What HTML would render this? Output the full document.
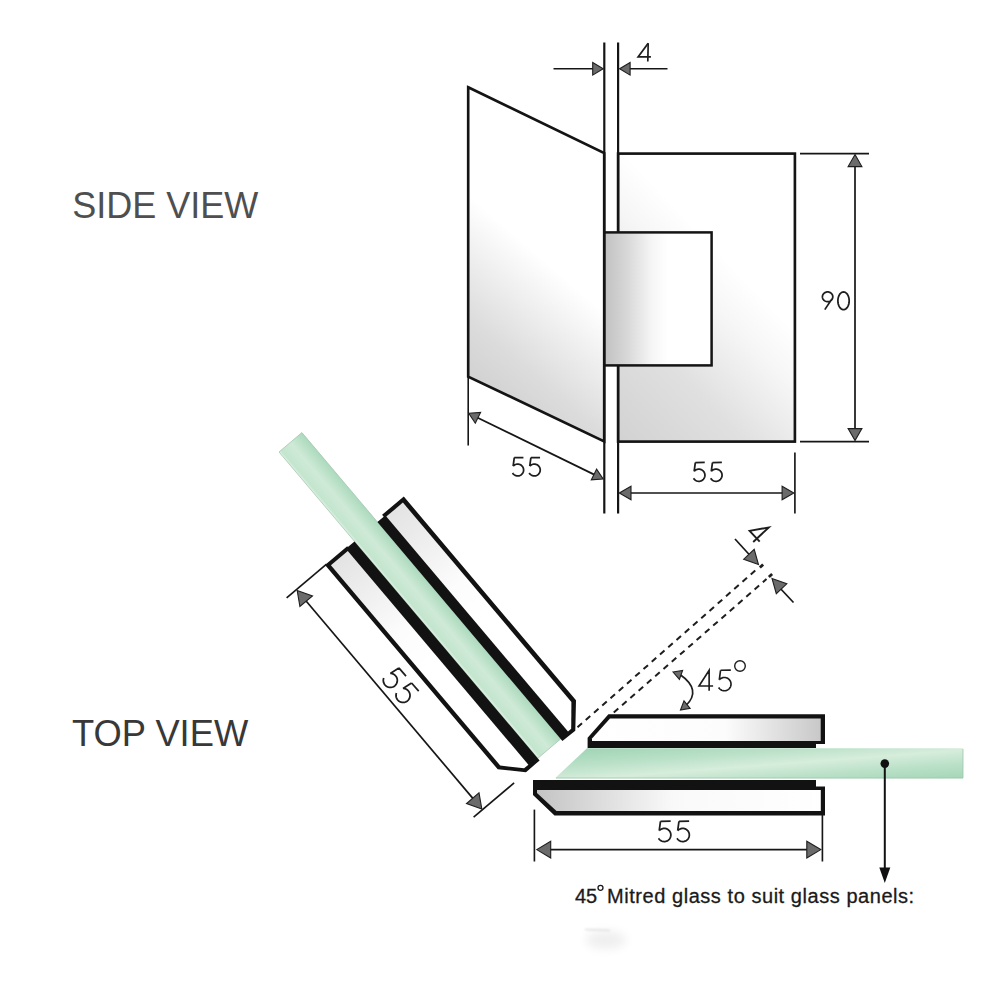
<!DOCTYPE html>
<html><head><meta charset="utf-8"><style>
html,body{margin:0;padding:0;background:#fff;width:1000px;height:1000px;overflow:hidden}
svg{position:absolute;left:0;top:0}
</style></head><body>
<svg width="1000" height="1000" viewBox="0 0 1000 1000">
<text x="72.3" y="217.5" font-family="Liberation Sans" font-size="36" fill="#4f4f4f">SIDE VIEW</text>
<text x="72" y="745.5" font-family="Liberation Sans" font-size="36.3" fill="#383838">TOP VIEW</text>
<defs>
<linearGradient id="gLP" x1="468" y1="441" x2="590" y2="300" gradientUnits="userSpaceOnUse"><stop offset="0" stop-color="#c6c6c6"/><stop offset="0.5" stop-color="#dcdcdc"/><stop offset="0.8" stop-color="#f1f1f1"/><stop offset="1" stop-color="#ffffff"/></linearGradient>
<linearGradient id="gRP" x1="618" y1="441" x2="765" y2="300" gradientUnits="userSpaceOnUse"><stop offset="0" stop-color="#d2d2d2"/><stop offset="0.45" stop-color="#e0e0e0"/><stop offset="0.8" stop-color="#f6f6f6"/><stop offset="1" stop-color="#ffffff"/></linearGradient>
<linearGradient id="gBlk" x1="604" y1="0" x2="711" y2="0" gradientUnits="userSpaceOnUse"><stop offset="0" stop-color="#c0c0c0"/><stop offset="0.22" stop-color="#d8d8d8"/><stop offset="0.45" stop-color="#f6f6f6"/><stop offset="0.6" stop-color="#ffffff"/></linearGradient>
<linearGradient id="gUB" x1="588" y1="0" x2="825" y2="0" gradientUnits="userSpaceOnUse"><stop offset="0" stop-color="#ffffff"/><stop offset="0.58" stop-color="#fcfcfc"/><stop offset="1" stop-color="#c6c6c6"/></linearGradient>
<linearGradient id="gLB" x1="533" y1="0" x2="825" y2="0" gradientUnits="userSpaceOnUse"><stop offset="0" stop-color="#c2c2c2"/><stop offset="0.48" stop-color="#f9f9f9"/><stop offset="1" stop-color="#ffffff"/></linearGradient>
<linearGradient id="gGR" x1="797.7" y1="732.5" x2="802.3" y2="792.5" gradientUnits="userSpaceOnUse"><stop offset="0" stop-color="#a0d5b4"/><stop offset="0.28" stop-color="#bbe1c9"/><stop offset="0.5" stop-color="#d6eddb"/><stop offset="0.72" stop-color="#bbe1c9"/><stop offset="1" stop-color="#a0d5b4"/></linearGradient>
<linearGradient id="gGL" x1="408.1" y1="604.8" x2="431.0" y2="585.4" gradientUnits="userSpaceOnUse"><stop offset="0" stop-color="#e2f2e5"/><stop offset="0.1" stop-color="#c3e5ce"/><stop offset="0.5" stop-color="#cfead7"/><stop offset="1" stop-color="#acdabd"/></linearGradient>
<linearGradient id="gLArm" x1="352.6" y1="539.1" x2="446.8" y2="650.6" gradientUnits="userSpaceOnUse"><stop offset="0" stop-color="#e2e2e2"/><stop offset="0.7" stop-color="#fcfcfc"/><stop offset="1" stop-color="#ffffff"/></linearGradient>
</defs>
<polygon points="468.2,87.3 604.2,153 604.2,441.4 468.2,376.6" fill="url(#gLP)" stroke="#141414" stroke-width="2.65" stroke-linejoin="miter"/>
<rect x="618.1" y="153.6" width="176.8" height="288" fill="url(#gRP)" stroke="#141414" stroke-width="2.65"/>
<rect x="604.3" y="232.4" width="107.3" height="133" fill="url(#gBlk)" stroke="#141414" stroke-width="2.5"/>
<line x1="604.30" y1="42.50" x2="604.30" y2="513.50" stroke="#141414" stroke-width="2.2" />
<line x1="618.10" y1="42.50" x2="618.10" y2="232.40" stroke="#141414" stroke-width="2.2" />
<line x1="618.10" y1="365.40" x2="618.10" y2="513.50" stroke="#141414" stroke-width="2.2" />
<line x1="553.50" y1="68.80" x2="594.00" y2="68.80" stroke="#161616" stroke-width="1.6" />
<polygon points="603.2,68.8 592.7,75.1 592.7,62.5" fill="#6b6b6b" stroke="#1e1e1e" stroke-width="1.1" stroke-linejoin="miter"/>
<line x1="629.00" y1="68.80" x2="667.50" y2="68.80" stroke="#161616" stroke-width="1.6" />
<polygon points="619.6,68.8 630.1,62.5 630.1,75.1" fill="#6b6b6b" stroke="#1e1e1e" stroke-width="1.1" stroke-linejoin="miter"/>
<path d="M648.2,43.2 L647.8,61.6" fill="none" stroke="#1e1e1e" stroke-width="1.7"/>
<path d="M648.2,43.2 L638.2,56.8 L650.9,56.8" fill="none" stroke="#1e1e1e" stroke-width="1.8" stroke-linejoin="miter"/>
<line x1="800.00" y1="153.60" x2="869.00" y2="153.60" stroke="#161616" stroke-width="1.65" />
<line x1="800.00" y1="441.60" x2="869.00" y2="441.60" stroke="#161616" stroke-width="1.65" />
<line x1="855.00" y1="164.20" x2="855.00" y2="431.00" stroke="#161616" stroke-width="1.7" />
<polygon points="855.0,154.6 861.9,166.6 848.1,166.6" fill="#6b6b6b" stroke="#1e1e1e" stroke-width="1.1" stroke-linejoin="miter"/>
<polygon points="855.0,440.6 848.1,428.6 861.9,428.6" fill="#6b6b6b" stroke="#1e1e1e" stroke-width="1.1" stroke-linejoin="miter"/>
<line x1="468.20" y1="376.00" x2="468.20" y2="445.50" stroke="#161616" stroke-width="1.6" />
<line x1="476.10" y1="416.92" x2="595.80" y2="475.38" stroke="#161616" stroke-width="1.7" />
<polygon points="468.7,413.3 480.6,412.4 475.3,423.2" fill="#6b6b6b" stroke="#1e1e1e" stroke-width="1.1" stroke-linejoin="miter"/>
<polygon points="603.2,479.0 591.3,479.9 596.6,469.1" fill="#6b6b6b" stroke="#1e1e1e" stroke-width="1.1" stroke-linejoin="miter"/>
<line x1="794.90" y1="452.50" x2="794.90" y2="513.50" stroke="#161616" stroke-width="1.65" />
<line x1="628.66" y1="493.00" x2="784.44" y2="493.00" stroke="#161616" stroke-width="1.7" />
<polygon points="619.3,493.0 631.0,486.2 631.0,499.8" fill="#6b6b6b" stroke="#1e1e1e" stroke-width="1.1" stroke-linejoin="miter"/>
<polygon points="793.8,493.0 782.1,499.8 782.1,486.2" fill="#6b6b6b" stroke="#1e1e1e" stroke-width="1.1" stroke-linejoin="miter"/>
<path d="M514.28,457.70 L523.43,457.51 M514.28,457.70 L513.15,466.21 M513.15,466.21 L513.66,465.67 L514.25,465.20 L514.88,464.80 L515.56,464.49 L516.28,464.26 L517.02,464.13 L517.76,464.09 L518.51,464.15 L519.25,464.30 L519.95,464.54 L520.63,464.87 L521.25,465.29 L521.82,465.77 L522.32,466.33 L522.75,466.95 L523.10,467.61 L523.36,468.31 L523.53,469.04 L523.61,469.79 L523.59,470.54 L523.48,471.28 L523.27,472.00 L522.98,472.69 L522.60,473.33 L522.14,473.93 L521.61,474.46 L521.02,474.92 L520.38,475.30 L519.69,475.60 L518.97,475.81 L518.23,475.92 L517.48,475.94 L516.73,475.87 L516.00,475.70 L515.30,475.44 L514.63,475.10 L514.02,474.67 L513.46,474.17 L512.97,473.61 L512.55,472.98 M530.89,457.70 L540.04,457.51 M530.89,457.70 L529.76,466.21 M529.76,466.21 L530.28,465.67 L530.86,465.20 L531.49,464.80 L532.18,464.49 L532.89,464.26 L533.63,464.13 L534.38,464.09 L535.12,464.15 L535.86,464.30 L536.57,464.54 L537.24,464.87 L537.87,465.29 L538.44,465.77 L538.94,466.33 L539.37,466.95 L539.71,467.61 L539.98,468.31 L540.15,469.04 L540.22,469.79 L540.20,470.54 L540.09,471.28 L539.89,472.00 L539.59,472.69 L539.21,473.33 L538.76,473.93 L538.23,474.46 L537.64,474.92 L536.99,475.30 L536.30,475.60 L535.58,475.81 L534.84,475.92 L534.09,475.94 L533.35,475.87 L532.62,475.70 L531.91,475.44 L531.25,475.10 L530.63,474.67 L530.07,474.17 L529.58,473.61 L529.17,472.98" fill="none" stroke="#1e1e1e" stroke-width="1.75" stroke-linecap="butt" stroke-linejoin="miter"/>
<path d="M695.32,462.52 L704.75,462.33 M695.32,462.52 L694.16,471.29 M694.16,471.29 L694.69,470.73 L695.29,470.25 L695.94,469.84 L696.65,469.52 L697.38,469.29 L698.14,469.15 L698.92,469.11 L699.69,469.17 L700.44,469.33 L701.17,469.58 L701.87,469.92 L702.51,470.34 L703.10,470.84 L703.62,471.42 L704.06,472.05 L704.42,472.73 L704.68,473.46 L704.86,474.21 L704.94,474.98 L704.92,475.75 L704.80,476.51 L704.59,477.26 L704.29,477.97 L703.90,478.63 L703.43,479.25 L702.88,479.79 L702.27,480.27 L701.61,480.66 L700.90,480.97 L700.16,481.18 L699.39,481.30 L698.62,481.32 L697.85,481.25 L697.10,481.08 L696.38,480.81 L695.69,480.45 L695.05,480.02 L694.48,479.50 L693.97,478.92 L693.55,478.27 M712.45,462.52 L721.87,462.33 M712.45,462.52 L711.28,471.29 M711.28,471.29 L711.81,470.73 L712.41,470.25 L713.07,469.84 L713.77,469.52 L714.51,469.29 L715.27,469.15 L716.04,469.11 L716.81,469.17 L717.56,469.33 L718.29,469.58 L718.99,469.92 L719.63,470.34 L720.22,470.84 L720.74,471.42 L721.18,472.05 L721.54,472.73 L721.81,473.46 L721.98,474.21 L722.06,474.98 L722.04,475.75 L721.93,476.51 L721.71,477.26 L721.41,477.97 L721.02,478.63 L720.55,479.25 L720.00,479.79 L719.39,480.27 L718.73,480.66 L718.02,480.97 L717.28,481.18 L716.52,481.30 L715.74,481.32 L714.98,481.25 L714.22,481.08 L713.50,480.81 L712.81,480.45 L712.18,480.02 L711.60,479.50 L711.10,478.92 L710.67,478.27" fill="none" stroke="#1e1e1e" stroke-width="1.75" stroke-linecap="butt" stroke-linejoin="miter"/>
<path d="M832.80,296.80 L832.75,297.43 L832.62,298.06 L832.40,298.66 L832.10,299.23 L831.73,299.76 L831.28,300.24 L830.77,300.66 L830.21,301.01 L829.60,301.29 L828.96,301.50 L828.29,301.62 L827.61,301.66 L826.94,301.62 L826.27,301.50 L825.63,301.29 L825.02,301.01 L824.46,300.66 L823.95,300.24 L823.50,299.76 L823.12,299.23 L822.82,298.66 L822.61,298.06 L822.47,297.43 L822.43,296.80 L822.47,296.16 L822.61,295.54 L822.82,294.94 L823.12,294.37 L823.50,293.84 L823.95,293.36 L824.46,292.94 L825.02,292.58 L825.63,292.30 L826.27,292.10 L826.94,291.97 L827.61,291.93 L828.29,291.97 L828.96,292.10 L829.60,292.30 L830.21,292.58 L830.77,292.94 L831.28,293.36 L831.73,293.84 L832.10,294.37 L832.40,294.94 L832.62,295.54 L832.75,296.16 L832.80,296.80 M831.89,299.07 L824.79,309.62 M849.17,300.80 L849.13,301.79 L849.03,302.76 L848.85,303.71 L848.61,304.63 L848.31,305.49 L847.94,306.30 L847.52,307.04 L847.05,307.70 L846.53,308.27 L845.98,308.75 L845.39,309.13 L844.79,309.40 L844.16,309.57 L843.53,309.62 L842.90,309.57 L842.28,309.40 L841.67,309.13 L841.08,308.75 L840.53,308.27 L840.02,307.70 L839.54,307.04 L839.12,306.30 L838.76,305.49 L838.45,304.63 L838.21,303.71 L838.03,302.76 L837.93,301.79 L837.89,300.80 L837.93,299.81 L838.03,298.84 L838.21,297.89 L838.45,296.97 L838.76,296.11 L839.12,295.30 L839.54,294.56 L840.02,293.90 L840.53,293.33 L841.08,292.85 L841.67,292.47 L842.28,292.20 L842.90,292.03 L843.53,291.98 L844.16,292.03 L844.79,292.20 L845.39,292.47 L845.98,292.85 L846.53,293.33 L847.05,293.90 L847.52,294.56 L847.94,295.30 L848.31,296.11 L848.61,296.97 L848.85,297.89 L849.03,298.84 L849.13,299.81 L849.17,300.80" fill="none" stroke="#1e1e1e" stroke-width="1.75" stroke-linecap="butt" stroke-linejoin="miter"/>
<polygon points="279.0,452.0 301.9,432.6 560.7,738.9 537.8,758.3" fill="url(#gGL)" stroke="#a3c6ad" stroke-width="0.8"/>
<polygon points="377.4,522.0 383.7,516.7 382.1,514.8 403.8,496.5 576.0,700.2 575.3,730.8 562.4,740.9" fill="#121212"/>
<polygon points="386.3,516.6 402.9,502.6 571.4,701.9 571.2,728.7 568.0,731.5" fill="url(#gLArm)"/>
<polygon points="354.5,541.4 347.9,547.0 347.2,546.2 325.0,565.0 497.7,769.3 526.0,772.2 539.6,760.4" fill="#121212"/>
<polygon points="347.8,550.9 330.9,565.2 500.2,765.5 524.1,768.3 528.4,764.7" fill="url(#gLArm)"/>
<polygon points="587,748.2 963,748.2 963,778.3 555,778.3" fill="url(#gGR)"/>
<polyline points="963,749 963,778 556,778" fill="none" stroke="#9fc5ab" stroke-width="0.8"/>
<polygon points="608.4,714.3 825,714.3 825,744 816,744 816,748 587.6,748 587.6,737.7" fill="#121212"/>
<polygon points="610,718.5 820.7,718.5 820.7,741 592,741 592,738.5" fill="url(#gUB)"/>
<polygon points="533,780 816,780 816,786.4 825,786.4 825,815.6 554.5,815.6 533,795" fill="#121212"/>
<polygon points="537,790 820.8,790 820.8,811 556.5,811 537,793" fill="url(#gLB)"/>
<line x1="577.50" y1="727.30" x2="757.00" y2="569.00" stroke="#1e1e1e" stroke-width="2.0" stroke-dasharray="6,5"/>
<line x1="613.80" y1="712.50" x2="766.50" y2="579.00" stroke="#1e1e1e" stroke-width="2.0" stroke-dasharray="6,5"/>
<rect x="-2.2" y="-1.4" width="4.4" height="2.8" transform="translate(761.5,566) rotate(-42)" fill="#1e1e1e"/>
<rect x="-2.2" y="-1.4" width="4.4" height="2.8" transform="translate(770.5,575.5) rotate(-42)" fill="#1e1e1e"/>
<line x1="735.00" y1="539.00" x2="751.00" y2="556.50" stroke="#161616" stroke-width="1.7" />
<polygon points="758.5,564.5 743.7,559.2 754.2,549.3" fill="#6b6b6b" stroke="#1e1e1e" stroke-width="1.1" stroke-linejoin="miter"/>
<line x1="793.50" y1="602.50" x2="779.00" y2="587.00" stroke="#161616" stroke-width="1.7" />
<polygon points="772.0,578.5 786.8,583.8 776.3,593.7" fill="#6b6b6b" stroke="#1e1e1e" stroke-width="1.1" stroke-linejoin="miter"/>
<path d="M753.21,542.05 L768.78,527.43 L749.61,530.93 L759.69,541.67" fill="none" stroke="#1e1e1e" stroke-width="1.9" stroke-linecap="butt" stroke-linejoin="miter"/>
<path d="M680,674.5 Q702,690 686,705.5" fill="none" stroke="#1e1e1e" stroke-width="1.7"/>
<polygon points="673.0,672.0 682.6,670.4 679.4,679.4" fill="#6b6b6b" stroke="#1e1e1e" stroke-width="1.1" stroke-linejoin="miter"/>
<polygon points="680.5,710.0 684.0,700.9 690.1,708.3" fill="#6b6b6b" stroke="#1e1e1e" stroke-width="1.1" stroke-linejoin="miter"/>
<path d="M709.13,690.71 L709.13,670.29 L699.02,685.95 L713.11,685.95 M720.55,670.29 L730.82,670.08 M720.55,670.29 L719.28,679.84 M719.28,679.84 L719.86,679.23 L720.51,678.70 L721.23,678.25 L721.99,677.90 L722.80,677.65 L723.62,677.50 L724.46,677.46 L725.30,677.53 L726.13,677.70 L726.92,677.97 L727.68,678.34 L728.38,678.80 L729.02,679.35 L729.58,679.97 L730.06,680.66 L730.45,681.41 L730.75,682.20 L730.94,683.02 L731.02,683.85 L731.00,684.69 L730.88,685.53 L730.65,686.33 L730.32,687.11 L729.89,687.83 L729.38,688.50 L728.78,689.10 L728.12,689.61 L727.40,690.04 L726.62,690.38 L725.82,690.61 L724.98,690.74 L724.14,690.76 L723.31,690.68 L722.49,690.49 L721.70,690.20 L720.95,689.82 L720.26,689.34 L719.63,688.78 L719.08,688.14 L718.62,687.44" fill="none" stroke="#1e1e1e" stroke-width="1.65" stroke-linecap="butt" stroke-linejoin="miter"/>
<circle cx="740" cy="666" r="5.3" fill="none" stroke="#1e1e1e" stroke-width="1.4"/>
<line x1="326.57" y1="564.07" x2="286.62" y2="597.82" stroke="#161616" stroke-width="1.65" />
<line x1="514.12" y1="782.90" x2="473.64" y2="817.11" stroke="#161616" stroke-width="1.65" />
<line x1="304.40" y1="599.03" x2="474.55" y2="800.37" stroke="#161616" stroke-width="1.7" />
<polygon points="297.2,590.5 312.5,595.9 299.9,606.5" fill="#6b6b6b" stroke="#1e1e1e" stroke-width="1.1" stroke-linejoin="miter"/>
<polygon points="481.8,808.9 466.5,803.5 479.0,792.9" fill="#6b6b6b" stroke="#1e1e1e" stroke-width="1.1" stroke-linejoin="miter"/>
<path d="M398.85,667.94 L406.01,676.07 M398.85,667.94 L390.29,673.42 M390.29,673.42 L391.17,673.47 L392.05,673.64 L392.89,673.91 L393.69,674.29 L394.44,674.76 L395.12,675.33 L395.73,675.98 L396.25,676.70 L396.67,677.48 L397.00,678.30 L397.21,679.16 L397.32,680.04 L397.31,680.93 L397.19,681.81 L396.96,682.67 L396.63,683.49 L396.19,684.26 L395.66,684.97 L395.05,685.61 L394.36,686.17 L393.60,686.63 L392.79,687.00 L391.95,687.26 L391.07,687.41 L390.19,687.45 L389.30,687.38 L388.43,687.19 L387.60,686.90 L386.80,686.51 L386.06,686.01 L385.39,685.43 L384.80,684.77 L384.30,684.04 L383.89,683.25 L383.59,682.42 L383.39,681.56 L383.30,680.67 L383.33,679.79 L383.47,678.91 L383.71,678.06 M411.54,682.96 L418.70,691.09 M411.54,682.96 L402.98,688.44 M402.98,688.44 L403.87,688.49 L404.74,688.66 L405.58,688.93 L406.39,689.31 L407.13,689.78 L407.82,690.35 L408.42,691.00 L408.94,691.72 L409.37,692.50 L409.69,693.32 L409.91,694.18 L410.01,695.06 L410.00,695.95 L409.89,696.83 L409.66,697.69 L409.32,698.51 L408.89,699.28 L408.36,699.99 L407.74,700.63 L407.05,701.19 L406.29,701.65 L405.49,702.02 L404.64,702.28 L403.76,702.43 L402.88,702.47 L401.99,702.40 L401.13,702.21 L400.29,701.92 L399.49,701.53 L398.76,701.03 L398.09,700.45 L397.49,699.79 L396.99,699.06 L396.58,698.27 L396.28,697.44 L396.08,696.58 L396.00,695.69 L396.02,694.81 L396.16,693.93 L396.41,693.08" fill="none" stroke="#1e1e1e" stroke-width="1.75" stroke-linecap="butt" stroke-linejoin="miter"/>
<line x1="534.40" y1="809.60" x2="534.40" y2="861.50" stroke="#161616" stroke-width="1.65" />
<line x1="822.40" y1="815.00" x2="822.40" y2="861.50" stroke="#161616" stroke-width="1.65" />
<line x1="547.90" y1="849.60" x2="809.60" y2="849.60" stroke="#161616" stroke-width="1.7" />
<polygon points="536.7,849.6 550.7,841.2 550.7,858.0" fill="#6b6b6b" stroke="#1e1e1e" stroke-width="1.1" stroke-linejoin="miter"/>
<polygon points="820.8,849.6 806.8,858.0 806.8,841.2" fill="#6b6b6b" stroke="#1e1e1e" stroke-width="1.1" stroke-linejoin="miter"/>
<path d="M660.48,821.28 L670.65,821.07 M660.48,821.28 L659.22,830.74 M659.22,830.74 L659.79,830.14 L660.44,829.61 L661.14,829.17 L661.90,828.83 L662.70,828.58 L663.52,828.43 L664.35,828.39 L665.18,828.45 L666.00,828.62 L666.79,828.89 L667.54,829.26 L668.23,829.72 L668.86,830.26 L669.42,830.88 L669.90,831.56 L670.29,832.30 L670.58,833.08 L670.77,833.89 L670.85,834.72 L670.83,835.56 L670.71,836.38 L670.48,837.18 L670.15,837.95 L669.73,838.67 L669.22,839.33 L668.63,839.92 L667.97,840.43 L667.26,840.85 L666.49,841.19 L665.69,841.42 L664.87,841.55 L664.03,841.57 L663.21,841.49 L662.39,841.30 L661.61,841.02 L660.87,840.63 L660.18,840.16 L659.56,839.60 L659.02,838.97 L658.56,838.28 M678.95,821.28 L689.13,821.07 M678.95,821.28 L677.69,830.74 M677.69,830.74 L678.27,830.14 L678.91,829.61 L679.62,829.17 L680.38,828.83 L681.18,828.58 L682.00,828.43 L682.83,828.39 L683.66,828.45 L684.48,828.62 L685.27,828.89 L686.01,829.26 L686.71,829.72 L687.34,830.26 L687.90,830.88 L688.38,831.56 L688.76,832.30 L689.06,833.08 L689.24,833.89 L689.33,834.72 L689.31,835.56 L689.18,836.38 L688.96,837.18 L688.63,837.95 L688.21,838.67 L687.70,839.33 L687.11,839.92 L686.45,840.43 L685.74,840.85 L684.97,841.19 L684.17,841.42 L683.35,841.55 L682.51,841.57 L681.68,841.49 L680.87,841.30 L680.09,841.02 L679.35,840.63 L678.66,840.16 L678.04,839.60 L677.50,838.97 L677.03,838.28" fill="none" stroke="#1e1e1e" stroke-width="1.75" stroke-linecap="butt" stroke-linejoin="miter"/>
<circle cx="884.8" cy="763.6" r="4.3" fill="#111"/>
<line x1="884.80" y1="764.00" x2="884.80" y2="872.00" stroke="#111" stroke-width="2.0" />
<polygon points="879.3,867.5 890.3,867.5 884.8,883" fill="#111"/>
<text x="575" y="902.5" font-family="Liberation Sans" font-size="20" fill="#1a1a1a" stroke="#1a1a1a" stroke-width="0.3">45</text>
<circle cx="600.5" cy="887.8" r="2.5" fill="none" stroke="#1a1a1a" stroke-width="1.3"/>
<text x="607" y="902.5" font-family="Liberation Sans" font-size="20" letter-spacing="0.55" fill="#1a1a1a" stroke="#1a1a1a" stroke-width="0.3">Mitred glass to suit glass panels:</text>
<defs><filter id="blur" x="-50%" y="-50%" width="200%" height="200%"><feGaussianBlur stdDeviation="5"/></filter><filter id="blur2" x="-50%" y="-200%" width="200%" height="500%"><feGaussianBlur stdDeviation="0.8"/></filter></defs>
<ellipse cx="606" cy="940" rx="20" ry="9" fill="#efefef" filter="url(#blur)"/>
<line x1="585" y1="929.5" x2="610" y2="930.5" stroke="#dedede" stroke-width="1.6" filter="url(#blur2)"/>
</svg>
</body></html>
